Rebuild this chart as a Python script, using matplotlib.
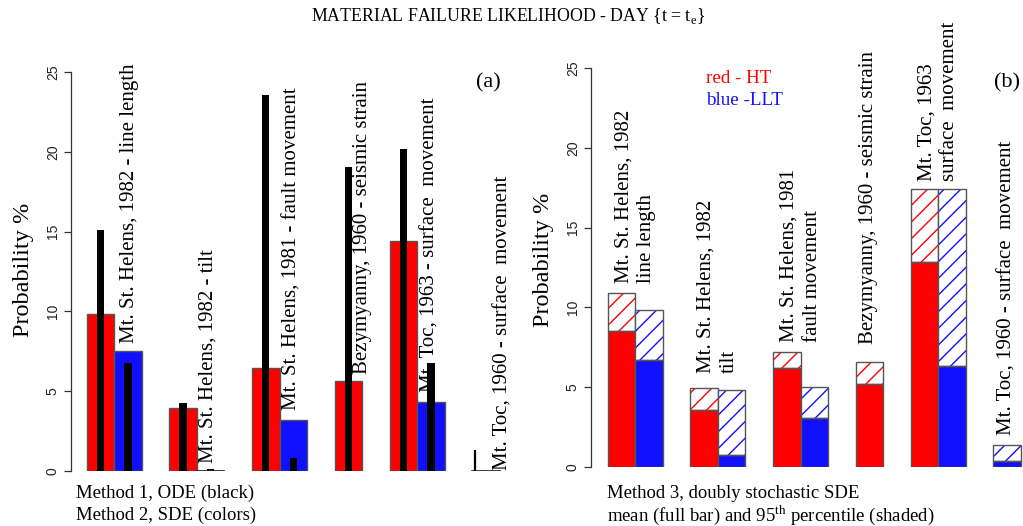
import numpy as np
import matplotlib
matplotlib.use("Agg")
import matplotlib.pyplot as plt

plt.rcParams['font.family'] = ['Liberation Serif', 'DejaVu Serif']
plt.rcParams['mathtext.fontset'] = 'custom'
plt.rcParams['mathtext.rm'] = 'Liberation Serif'
plt.rcParams['hatch.linewidth'] = 1.0

# --- data -------------------------------------------------------------
# (a) method 2 SDE means (red = HT, blue = LLT), nan = no bar
sde_red = [9.85, 3.92, 6.47, 5.66, 14.43, 0.0]
sde_blue = [7.54, 0.0, 3.2, np.nan, 4.34, np.nan]
# (a) method 1 ODE values drawn over each coloured bar
ode_red = [15.1, 4.24, 23.56, 19.07, 20.17, np.nan]
ode_blue = [6.79, 0.15, 0.83, np.nan, 6.75, np.nan]
ode_toc1960 = 1.3

# (b) method 3 doubly stochastic SDE: mean and 95th percentile
ht_mean = [8.53, 3.56, 6.17, 5.19, 12.86, np.nan]
ht_p95 = [10.92, 4.92, 7.18, 6.55, 17.42, np.nan]
llt_mean = [6.69, 0.73, 3.04, np.nan, 6.34, 0.38]
llt_p95 = [9.83, 4.81, 5.02, np.nan, 17.42, 1.36]

labels_a = ["Mt. St. Helens, 1982 - line length",
            "Mt. St. Helens, 1982 - tilt",
            "Mt. St. Helens, 1981 - fault movement",
            "Bezymyanny, 1960 - seismic strain",
            "Mt. Toc, 1963 - surface  movement",
            "Mt. Toc, 1960 - surface  movement"]
labels_b = ["Mt. St. Helens, 1982\nline length",
            "Mt. St. Helens, 1982\ntilt",
            "Mt. St. Helens, 1981\nfault movement",
            "Bezymyanny, 1960 - seismic strain",
            "Mt. Toc, 1963\nsurface  movement",
            "Mt. Toc, 1960 - surface  movement"]

RED = '#ff0000'
BLUE = '#1010ff'
EDGE = '#555555'


def slots(pairs):
    # bars of a group sit side by side, one empty slot between groups
    out = []
    x = 0
    for pair in pairs:
        row = []
        for v in pair:
            if np.isnan(v):
                row.append(None)
            else:
                row.append(x)
                x += 1
        out.append(row)
        x += 1
    return out


fig = plt.figure(figsize=(10.23, 5.26), dpi=100)
W, H = 1023.0, 526.0
unit = 27.55


def make_axes(left_px, right_px, y0_px, y25_px, x0_px):
    ax = fig.add_axes([left_px / W, (H - y0_px) / H,
                       (right_px - left_px) / W, (y0_px - y25_px) / H])
    ax.set_xlim((left_px - x0_px) / unit, (right_px - x0_px) / unit)
    ax.set_ylim(0, 25)
    for s in ['top', 'right', 'bottom']:
        ax.spines[s].set_visible(False)
    ax.spines['left'].set_color('#333333')
    ax.spines['left'].set_linewidth(0.9)
    ax.set_xticks([])
    ax.set_yticks([0, 5, 10, 15, 20, 25])
    ax.tick_params(axis='y', length=5, width=0.9, color='#333333', pad=3)
    for t in ax.get_yticklabels():
        t.set_rotation(90)
        t.set_va('center')
        t.set_family('Liberation Sans')
        t.set_fontsize(10)
        t.set_color('#222222')
    return ax


LABEL_FS = 15

# --- panel (a) --------------------------------------------------------
ax1 = make_axes(71, 520, 471, 72, 86.7)
pos_a = slots(list(zip(sde_red, sde_blue)))
for i, (xr, xb) in enumerate(pos_a):
    for x, v, ov, c in ((xr, sde_red[i], ode_red[i], RED),
                        (xb, sde_blue[i], ode_blue[i], BLUE)):
        if x is None:
            continue
        ax1.bar(x, v, width=1, align='edge', color=c, edgecolor=EDGE,
                linewidth=1.0)
        if v == 0:
            ax1.plot([x, x + 1], [0, 0], color='#222222', lw=1.2)
        if not np.isnan(ov):
            ax1.bar(x + 0.5, ov, width=0.265, color='black', linewidth=0)
ax1.vlines(pos_a[5][0] + 0.1, 0, ode_toc1960, color='black', lw=1.6)

lab_a = [(1.54, 8.0), (4.4, 0.5), (7.44, 3.8), (10.0, 6.1), (12.46, 4.97),
         (15.12, 0.05)]
for (x, y), s in zip(lab_a, labels_a):
    ax1.text(x, y, s, rotation=90, rotation_mode='anchor', ha='left',
             va='center', fontsize=LABEL_FS, clip_on=False)
ax1.text(14.57, 24.3, "(a)", fontsize=16, ha='center', va='center')

# --- panel (b) --------------------------------------------------------
ax2 = make_axes(591, 1023, 466.7, 68.3, 607.7)
pos_b = slots(list(zip(ht_p95, llt_p95)))
for i, (xr, xb) in enumerate(pos_b):
    for x, m, p, c in ((xr, ht_mean[i], ht_p95[i], RED),
                       (xb, llt_mean[i], llt_p95[i], BLUE)):
        if x is None:
            continue
        ax2.bar(x, m, width=1, align='edge', color=c, linewidth=0)
        ax2.bar(x, p - m, bottom=m, width=1, align='edge', color='white',
                edgecolor=c, hatch='//', linewidth=0)
        ax2.bar(x, m, width=1, align='edge', fill=False, edgecolor=EDGE,
                linewidth=1.0)
        ax2.bar(x, p - m, bottom=m, width=1, align='edge', fill=False,
                edgecolor=EDGE, linewidth=1.0, clip_on=False)

lab_b = [(1.0, 11.5), (4.0, 5.86), (7.0, 7.84), (9.46, 7.7), (12.0, 17.9),
         (14.5, 1.99)]
for (x, y), s in zip(lab_b, labels_b):
    ax2.text(x, y, s, rotation=90, rotation_mode='anchor', ha='left',
             va='center', fontsize=LABEL_FS, multialignment='left',
             linespacing=1.28, clip_on=False)
ax2.text(14.49, 24.07, "(b)", fontsize=16, ha='center', va='center')
ax2.text(3.56, 24.38, "red - HT", color=RED, fontsize=13.7, ha='left',
         va='center')
ax2.text(3.56, 23.0, "blue -LLT", color=BLUE, fontsize=13.7, ha='left',
         va='center')

# --- figure texts -----------------------------------------------------
fig.text(23 / W, 1 - 270 / H, "Probability %", rotation=90, ha='center',
         va='center', fontsize=17.5)
fig.text(543 / W, 1 - 260 / H, "Probability %", rotation=90, ha='center',
         va='center', fontsize=17.5)
fig.text(508 / W, 1 - 16 / H,
         r"MATERIAL FAILURE LIKELIHOOD - DAY {t = t$_\mathregular{e}$}",
         ha='center', va='center', fontsize=12.8)
fig.text(76 / W, 1 - 493 / H, "Method 1, ODE (black)", ha='left',
         va='center', fontsize=13.5)
fig.text(76 / W, 1 - 515 / H, "Method 2, SDE (colors)", ha='left',
         va='center', fontsize=13.5)
fig.text(607 / W, 1 - 493 / H, "Method 3, doubly stochastic SDE",
         ha='left', va='center', fontsize=13.5)
fig.text(607 / W, 1 - 515 / H,
         r"mean (full bar) and 95$^\mathregular{th}$ percentile (shaded)",
         ha='left', va='center', fontsize=13.5)

fig.savefig("out.png", dpi=100)
